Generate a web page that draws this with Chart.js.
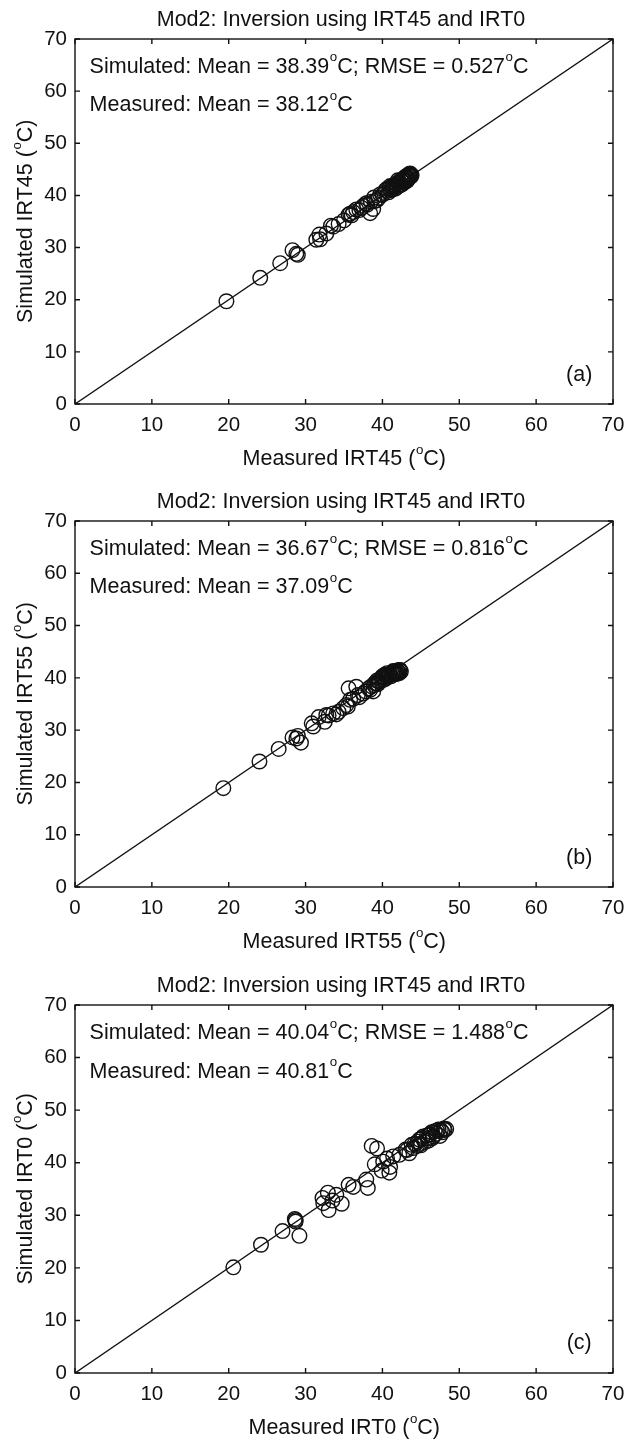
<!DOCTYPE html>
<html><head><meta charset="utf-8">
<script src="https://cdn.jsdelivr.net/npm/chart.js@4.4.1/dist/chart.umd.min.js"></script>
<style>
html,body{margin:0;padding:0;background:#fff;}
.wrap{position:relative;width:638px;height:1443px;overflow:hidden;background:#fff;}
canvas{position:absolute;left:0;}
</style></head><body>
<div class="wrap">
<canvas id="ca" width="638" height="481" style="top:0px"></canvas>
<canvas id="cb" width="638" height="481" style="top:481px"></canvas>
<canvas id="cc" width="638" height="481" style="top:962px"></canvas>
</div>
<script>
// ---------- data ----------
const TITLE = 'Mod2: Inversion using IRT45 and IRT0';
const AXIS_TICKS = [0, 10, 20, 30, 40, 50, 60, 70];
const ONE_TO_ONE = [0, 70];

const measA = [19.7, 24.1, 26.7, 28.3, 28.8, 29.0, 31.4, 31.8, 31.9, 32.7, 33.3, 33.6, 34.3, 35.0, 35.6, 35.8, 36.0, 36.2, 36.6, 37.0, 37.3, 37.5, 37.9, 38.0, 38.4, 38.5, 38.8, 38.9, 39.0, 39.3, 39.5, 39.7, 40.0, 40.2, 40.4, 40.6, 40.8, 41.0, 41.1, 41.2, 41.3, 41.5, 41.6, 41.8, 41.9, 42.0, 42.2, 42.3, 42.5, 42.6, 42.7, 42.8, 42.9, 43.0, 43.1, 43.2, 43.3, 43.4, 43.5, 43.6, 43.7, 43.8,
                40.9, 41.4, 41.7, 42.1, 42.4, 42.8, 43.0, 43.3, 43.5, 43.7, 42.6, 41.9, 42.2, 43.1, 43.6];
const simA  = [19.7, 24.2, 27.0, 29.5, 28.8, 28.6, 31.5, 32.5, 31.6, 32.7, 34.2, 34.0, 34.5, 35.2, 36.3, 36.5, 36.2, 36.8, 37.3, 37.2, 37.6, 38.0, 38.5, 38.2, 36.6, 38.8, 37.4, 39.6, 38.9, 39.1, 39.5, 40.2, 40.1, 40.5, 41.0, 41.3, 40.6, 41.8, 41.0, 41.6, 41.2, 41.7, 42.0, 42.3, 41.6, 42.9, 42.5, 42.0, 42.1, 42.6, 43.2, 42.8, 43.0, 43.3, 43.5, 42.8, 43.9, 43.3, 43.7, 43.8, 44.0, 43.9,
                41.4, 41.9, 41.3, 42.6, 42.9, 42.4, 43.6, 43.1, 44.1, 43.6, 43.0, 42.2, 41.9, 43.7, 44.2];

const measB = [19.3, 24.0, 26.5, 28.3, 29.0, 29.4, 28.8, 30.8, 31.0, 31.7, 32.5, 32.7, 33.0, 33.6, 34.0, 34.3, 34.9, 35.3, 35.6, 36.6, 35.8, 35.5, 36.2, 36.8, 37.0, 37.5, 37.8, 38.2, 38.4, 38.6, 38.8, 39.2, 39.0, 39.4, 39.5, 39.8, 40.0, 40.2, 40.4, 40.5, 40.6, 40.8, 41.0, 41.1, 41.3, 41.6, 41.8, 41.9, 42.0, 42.2, 42.3, 42.4,
                39.6, 39.9, 40.3, 40.7, 41.2, 41.5, 41.7, 42.1, 40.9, 41.4, 40.1, 39.3, 38.9, 41.9, 42.2];
const simB  = [18.9, 24.0, 26.4, 28.6, 28.9, 27.6, 28.4, 31.3, 30.7, 32.5, 31.6, 32.9, 32.8, 33.2, 33.0, 33.5, 34.2, 34.8, 38.0, 38.3, 35.8, 34.5, 36.0, 36.7, 36.3, 37.0, 37.4, 38.0, 37.7, 38.4, 37.4, 38.9, 39.0, 38.8, 39.4, 39.8, 40.3, 40.0, 39.8, 40.5, 40.9, 40.4, 40.8, 40.3, 41.0, 41.2, 41.0, 40.8, 41.3, 41.5, 41.5, 41.2,
                39.2, 40.1, 40.6, 40.2, 40.9, 41.1, 40.7, 41.0, 40.6, 41.3, 39.6, 39.5, 38.6, 41.4, 40.9];

const measC = [20.6, 24.2, 27.0, 28.7, 28.7, 28.6, 29.2, 32.2, 32.9, 32.3, 33.0, 33.5, 34.0, 34.7, 35.6, 36.2, 37.9, 38.1, 38.6, 39.3, 39.0, 39.9, 40.1, 40.6, 40.9, 41.0, 41.4, 42.2, 43.0, 43.2, 43.5, 43.8, 44.2, 44.5, 44.8, 45.0, 45.2, 45.5, 45.8, 46.0, 46.2, 46.4, 46.6, 46.8, 47.0, 47.3, 47.6, 47.8, 48.0, 48.3,
                44.0, 44.6, 45.3, 45.9, 46.5, 47.1, 47.5, 48.1, 44.9, 46.1];
const simC  = [20.1, 24.4, 27.0, 29.1, 28.8, 29.3, 26.1, 33.3, 34.3, 32.3, 31.0, 32.8, 33.9, 32.2, 35.8, 35.4, 36.8, 35.2, 43.2, 42.7, 39.7, 38.5, 40.2, 40.8, 38.1, 39.2, 41.2, 41.5, 42.5, 42.4, 41.8, 43.4, 43.6, 43.2, 44.4, 43.3, 44.7, 43.9, 45.2, 44.2, 45.4, 45.8, 45.0, 46.0, 45.5, 46.3, 46.2, 45.8, 46.5, 46.4,
                42.8, 44.0, 45.0, 44.6, 44.7, 46.1, 45.1, 46.2, 43.6, 45.3];

const PANELS = [
  {id:'ca', meas:measA, sim:simA, xTitle:'Measured IRT45 (^oC)', yTitle:'Simulated IRT45 (^oC)',
   line1:'Simulated: Mean = 38.39^oC; RMSE = 0.527^oC', line2:'Measured: Mean = 38.12^oC', tag:'(a)', top:39, bottom:404},
  {id:'cb', meas:measB, sim:simB, xTitle:'Measured IRT55 (^oC)', yTitle:'Simulated IRT55 (^oC)',
   line1:'Simulated: Mean = 36.67^oC; RMSE = 0.816^oC', line2:'Measured: Mean = 37.09^oC', tag:'(b)', top:40, bottom:406},
  {id:'cc', meas:measC, sim:simC, xTitle:'Measured IRT0 (^oC)', yTitle:'Simulated IRT0 (^oC)',
   line1:'Simulated: Mean = 40.04^oC; RMSE = 1.488^oC', line2:'Measured: Mean = 40.81^oC', tag:'(c)', top:43, bottom:411}
];

// ---------- drawing helpers ----------
const FONT = "'Liberation Sans', Arial, Helvetica, sans-serif";
const FS = 21.5;
const TICK_FS = 20.5;
const INK = '#111';
const LW = 1.4;

function richWidth(ctx, text, size) {
  const parts = text.split('^o');
  let w = 0;
  parts.forEach((p, i) => {
    ctx.font = size + 'px ' + FONT; w += ctx.measureText(p).width;
    if (i < parts.length - 1) { ctx.font = (size * 0.62) + 'px ' + FONT; w += ctx.measureText('o').width; }
  });
  return w;
}
function drawRich(ctx, text, x, y, size, align) {
  const w = richWidth(ctx, text, size);
  let cx = align === 'center' ? x - w / 2 : (align === 'right' ? x - w : x);
  ctx.textBaseline = 'middle'; ctx.textAlign = 'left'; ctx.fillStyle = INK;
  const parts = text.split('^o');
  parts.forEach((p, i) => {
    ctx.font = size + 'px ' + FONT; ctx.fillText(p, cx, y); cx += ctx.measureText(p).width;
    if (i < parts.length - 1) {
      ctx.font = (size * 0.62) + 'px ' + FONT;
      ctx.fillText('o', cx + 0.5, y - size * 0.42); cx += ctx.measureText('o').width + 0.5;
    }
  });
}

const decoPlugin = {
  id: 'deco',
  afterDatasetsDraw(chart, args, o) {
    const ctx = chart.ctx, a = chart.chartArea, xs = chart.scales.x, ys = chart.scales.y;
    ctx.save();
    ctx.strokeStyle = INK; ctx.lineWidth = LW;
    ctx.strokeRect(a.left, a.top, a.right - a.left, a.bottom - a.top);
    const TL = 5;
    ctx.beginPath();
    AXIS_TICKS.forEach(v => {
      const px = xs.getPixelForValue(v), py = ys.getPixelForValue(v);
      ctx.moveTo(px, a.bottom); ctx.lineTo(px, a.bottom - TL);
      ctx.moveTo(px, a.top); ctx.lineTo(px, a.top + TL);
      ctx.moveTo(a.left, py); ctx.lineTo(a.left + TL, py);
      ctx.moveTo(a.right, py); ctx.lineTo(a.right - TL, py);
    });
    ctx.stroke();
    // title
    ctx.font = FS + 'px ' + FONT; ctx.fillStyle = INK; ctx.textAlign = 'center'; ctx.textBaseline = 'middle';
    ctx.fillText(TITLE, (a.left + a.right) / 2 - 3, a.top - 19);
    // annotations
    drawRich(ctx, o.line1, xs.getPixelForValue(1.9), ys.getPixelForValue(64.7), FS, 'left');
    drawRich(ctx, o.line2, xs.getPixelForValue(1.9), ys.getPixelForValue(57.3), FS, 'left');
    drawRich(ctx, o.tag, xs.getPixelForValue(65.6), ys.getPixelForValue(5.6), FS, 'center');
    // axis titles
    drawRich(ctx, o.xTitle, (a.left + a.right) / 2, a.bottom + 55, FS, 'center');
    ctx.translate(26, (a.top + a.bottom) / 2); ctx.rotate(-Math.PI / 2);
    drawRich(ctx, o.yTitle, 0, 0, FS, 'center');
    ctx.restore();
  }
};

PANELS.forEach(P => {
  const pts = P.meas.map((m, i) => ({x: m, y: P.sim[i]}));
  const H = 481;
  new Chart(document.getElementById(P.id), {
    type: 'scatter',
    data: {
      datasets: [
        {type: 'line', data: ONE_TO_ONE.map(v => ({x: v, y: v})), borderColor: INK, borderWidth: LW,
         pointRadius: 0, fill: false, tension: 0, order: 2},
        {type: 'scatter', data: pts, pointRadius: 7.3, pointHoverRadius: 7.3, pointBorderWidth: LW,
         borderColor: INK, backgroundColor: 'rgba(0,0,0,0)', order: 1}
      ]
    },
    options: {
      responsive: false, animation: false, devicePixelRatio: 1,
      layout: {padding: {top: P.top, right: 25, bottom: 0, left: 0}},
      plugins: {legend: {display: false}, tooltip: {enabled: false}, title: {display: false}, deco: P},
      scales: {
        x: {type: 'linear', min: 0, max: 70,
            ticks: {stepSize: 10, color: INK, font: {family: FONT, size: TICK_FS}, padding: 9, maxRotation: 0},
            grid: {display: false, drawTicks: false}, border: {display: false},
            afterFit(s) { s.height = H - P.bottom; }},
        y: {type: 'linear', min: 0, max: 70,
            ticks: {stepSize: 10, color: INK, font: {family: FONT, size: TICK_FS}, padding: 8},
            grid: {display: false, drawTicks: false}, border: {display: false},
            afterFit(s) { s.width = 75; }}
      }
    },
    plugins: [decoPlugin]
  });
});
</script>
</body></html>
